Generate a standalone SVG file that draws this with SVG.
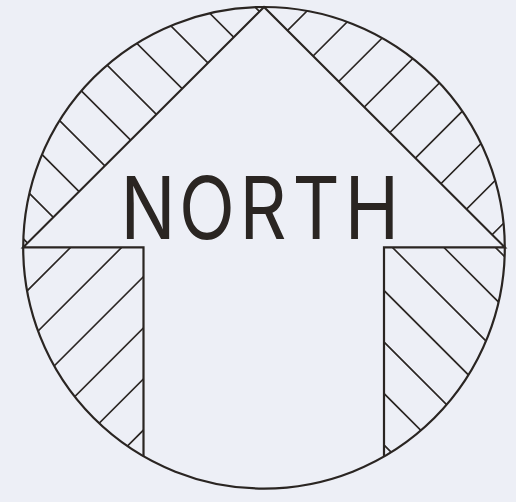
<svg xmlns="http://www.w3.org/2000/svg" width="516" height="502" viewBox="0 0 516 502">
<style>
.bg{fill:#edeff6}
.ol{fill:none;stroke:#2a2522;stroke-width:2.2;stroke-linejoin:miter}
.h{fill:none;stroke:#2a2522;stroke-width:1.6}
.t{font-family:Inter,"Liberation Sans",sans-serif;font-weight:400;font-size:86px;fill:#2a2522}
</style>
<defs>
<clipPath id="cUL"><path d="M23.2,247.3 A240.8,240.8 0 0 1 264,7 Z"/></clipPath>
<clipPath id="cUR"><path d="M264,7 A240.8,240.8 0 0 1 504.8,247.3 Z"/></clipPath>
<clipPath id="cLL"><path d="M143.5,247.3 L23.2,247.3 A240.8,240.8 0 0 0 143.5,456.3 Z"/></clipPath>
<clipPath id="cLR"><path d="M384,247.3 L504.8,247.3 A240.8,240.8 0 0 1 384,456.6 Z"/></clipPath>
<path id="hA" d="M238,-10L758,510M186.5,-10L706.5,510M135,-10L655,510M83.5,-10L603.5,510M32,-10L552,510M-19.5,-10L500.5,510M-71,-10L449,510M-122.5,-10L397.5,510M-174,-10L346,510M-225.5,-10L294.5,510"/>
<path id="hB" d="M276.9,-10L-243.1,510M328,-10L-192,510M379.1,-10L-140.9,510M430.2,-10L-89.8,510M481.3,-10L-38.7,510M532.4,-10L12.4,510M583.5,-10L63.5,510M634.6,-10L114.6,510M685.7,-10L165.7,510M736.8,-10L216.8,510"/>
</defs>
<rect class="bg" x="0" y="0" width="516" height="502"/>
<g id="hatching" class="h">
<use href="#hA" clip-path="url(#cUL)"/>
<use href="#hB" clip-path="url(#cUR)"/>
<use href="#hB" clip-path="url(#cLL)"/>
<use href="#hA" clip-path="url(#cLR)"/>
</g>
<g id="compass" class="ol">
<circle cx="264" cy="247.8" r="240.8"/>
<path d="M143.5,456.3 L143.5,247.3 L23.2,247.3 L264,7 L504.8,247.3 L384,247.3 L384,456.6"/>
</g>
<g id="label">
<text class="t" transform="scale(0.85 1)" x="174.1 243.5 309.4 371.8 437.6" y="239" text-anchor="middle">NORTH</text>
</g>
</svg>
